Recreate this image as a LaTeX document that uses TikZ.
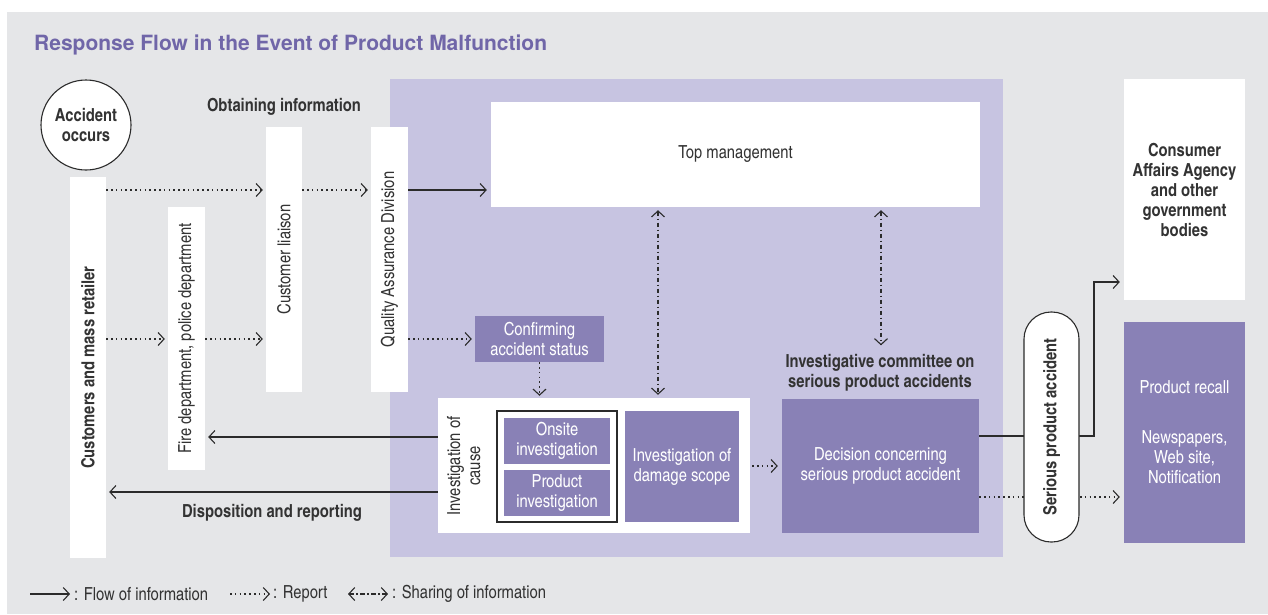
\documentclass[tikz,border=0pt]{standalone}
\usepackage{fontspec}
\setmainfont{texgyreheroscn}[Extension=.otf,UprightFont=*-regular,BoldFont=*-bold,ItalicFont=*-italic,BoldItalicFont=*-bolditalic]
\newfontfamily\titlefont{TeX Gyre Heros}
\usepackage{xcolor}
\usepackage{tikz}
\usetikzlibrary{arrows.meta,positioning}
\definecolor{bggrey}{HTML}{E5E6E8}
\definecolor{lav}{HTML}{C7C4E1}
\definecolor{boxpurple}{HTML}{8981B6}
\definecolor{titlepurple}{HTML}{7066A8}
\definecolor{linegrey}{HTML}{2B2B2B}
\definecolor{txtgrey}{HTML}{333333}

\begin{document}
\begin{tikzpicture}[x=1pt,y=-1pt,>={Straight Barb[length=6pt,width=13pt]},
every node/.style={font=\fontsize{18}{20}\selectfont,text=txtgrey,inner sep=0pt,align=center},
wbox/.style={fill=white},
pbox/.style={fill=boxpurple,text=white},
headtext/.style={font=\fontsize{18}{20}\selectfont\bfseries},
flow/.style={draw=linegrey,line width=1.1pt,->},
report/.style={flow,dash pattern=on 1.5pt off 3.3pt},
share/.style={draw=linegrey,line width=1.1pt,<->,dash pattern=on 4.5pt off 2.5pt on 1.5pt off 2.5pt}]
\useasboundingbox(0,0)rectangle(1268,614);
\fill[white](0,0)rectangle(1268,614);
\fill[bggrey](7,12)rectangle(1268,614);
\fill[lav](390,79)rectangle(1003,557);
\node[anchor=west,text=titlepurple,font=\titlefont\fontsize{21}{24}\selectfont\bfseries](title)at(34,45){Response Flow in the Event of Product Malfunction};

\node[draw=linegrey,line width=1.1pt,fill=white,circle,minimum size=90pt,headtext](acc)at(86,125){Accident\\occurs};
\node[wbox,minimum width=36pt,minimum height=381pt,headtext](cust)at(88,367.5){\rotatebox{90}{Customers and mass retailer}};
\node[wbox,minimum width=37pt,minimum height=263pt](fire)at(186.5,338.5){\rotatebox{90}{Fire department, police department}};
\node[wbox,minimum width=36pt,minimum height=265pt](liaison)at(284,259.5){\rotatebox{90}{Customer liaison}};
\node[wbox,minimum width=37pt,minimum height=265pt](qa)at(389.5,259.5){\rotatebox{90}{Quality Assurance Division}};
\node[headtext](obtain)at(284,107){Obtaining information};

\node[wbox,minimum width=489pt,minimum height=105pt](top)at(735.5,154.5){Top management};
\node[pbox,minimum width=129pt,minimum height=46pt](confirm)at(539.5,339){Confirming\\accident status};
\node[wbox,minimum width=312pt,minimum height=135pt](cause)at(594,465.5){};
\node(causetext)at(466,466){\rotatebox{90}{\begin{tabular}{@{}c@{}}Investigation of\\cause\end{tabular}}};
\node[draw=linegrey,line width=1.3pt,minimum width=120pt,minimum height=111pt](frame)at(557,466.5){};
\node[pbox,minimum width=106pt,minimum height=46pt](onsite)at(557,441){Onsite\\investigation};
\node[pbox,minimum width=106pt,minimum height=46pt](product)at(557,493){Product\\investigation};
\node[pbox,minimum width=114pt,minimum height=111pt](damage)at(682,466.5){Investigation of\\damage scope};
\node[headtext](comm)at(880,373){Investigative committee on\\serious product accidents};
\node[pbox,minimum width=197pt,minimum height=134pt](decision)at(880.5,466){Decision concerning\\serious product accident};
\node[wbox,minimum width=121pt,minimum height=221pt,headtext](agency)at(1184.5,189.5){Consumer\\Affairs Agency\\and other\\government\\bodies};
\node[pbox,minimum width=121pt,minimum height=221pt](recall)at(1184.5,432.5){Product recall\\[30pt]Newspapers,\\Web site,\\Notification};

\coordinate(rowA)at(0,190);
\coordinate(rowB)at(0,339);
\coordinate(rowC)at(0,437);
\coordinate(rowD)at(0,492);
\coordinate(rowE)at(0,436);
\coordinate(rowF)at(0,497);
\coordinate(colA)at(658,0);
\coordinate(colB)at(881,0);
\coordinate(bend)at(1094,282);

\draw[report,shorten >=3pt](cust.east|-rowA)--(liaison.west|-rowA);
\draw[report,shorten >=3pt](liaison.east|-rowA)--(qa.west|-rowA);
\draw[flow,shorten >=4pt](qa.east|-rowA)--(top.west|-rowA);
\draw[report,shorten >=3pt](cust.east|-rowB)--(fire.west|-rowB);
\draw[report,shorten >=3pt](fire.east|-rowB)--(liaison.west|-rowB);
\draw[report,shorten >=3pt](qa.east|-rowB)--(confirm.west|-rowB);
\draw[report,shorten >=2pt](confirm.south)--(confirm.south|-cause.north);
\draw[share,shorten <=3pt,shorten >=3pt](top.south-|colA)--(cause.north-|colA);
\draw[share,shorten <=3pt,shorten >=9pt](top.south-|colB)--(comm.north-|colB);
\draw[flow,shorten >=3pt](cause.west|-rowC)--(fire.east|-rowC);
\draw[flow,shorten >=3pt](cause.west|-rowD)--(cust.east|-rowD)
node[midway,below=12pt,headtext]{Disposition and reporting};
\draw[report,shorten <=2pt,shorten >=4pt](cause.east|-decision.west)--(decision.west);
\draw[flow,shorten >=4pt](decision.east|-rowE)-|(bend)--(agency.west|-bend);
\draw[report,shorten >=4pt](decision.east|-rowF)--(recall.west|-rowF);

\node[draw=linegrey,line width=1.1pt,fill=white,rounded corners=27pt,minimum width=55pt,minimum height=230pt,headtext](serious)at(1051.5,427){\rotatebox{90}{Serious product accident}};

\coordinate(legA)at(30,594);
\coordinate(legB)at(70,594);
\coordinate(legC)at(230,594);
\coordinate(legD)at(270,594);
\coordinate(legE)at(348,594);
\coordinate(legF)at(388,594);
\draw[flow](legA)--(legB);
\node[anchor=west](legflow)at([xshift=4pt]legB){: Flow of information};
\draw[report](legC)--(legD);
\node[anchor=west](legreport)at([xshift=3pt]legD){: Report};
\draw[share](legE)--(legF);
\node[anchor=west](legshare)at([xshift=4pt]legF){: Sharing of information};
\end{tikzpicture}
\end{document}
